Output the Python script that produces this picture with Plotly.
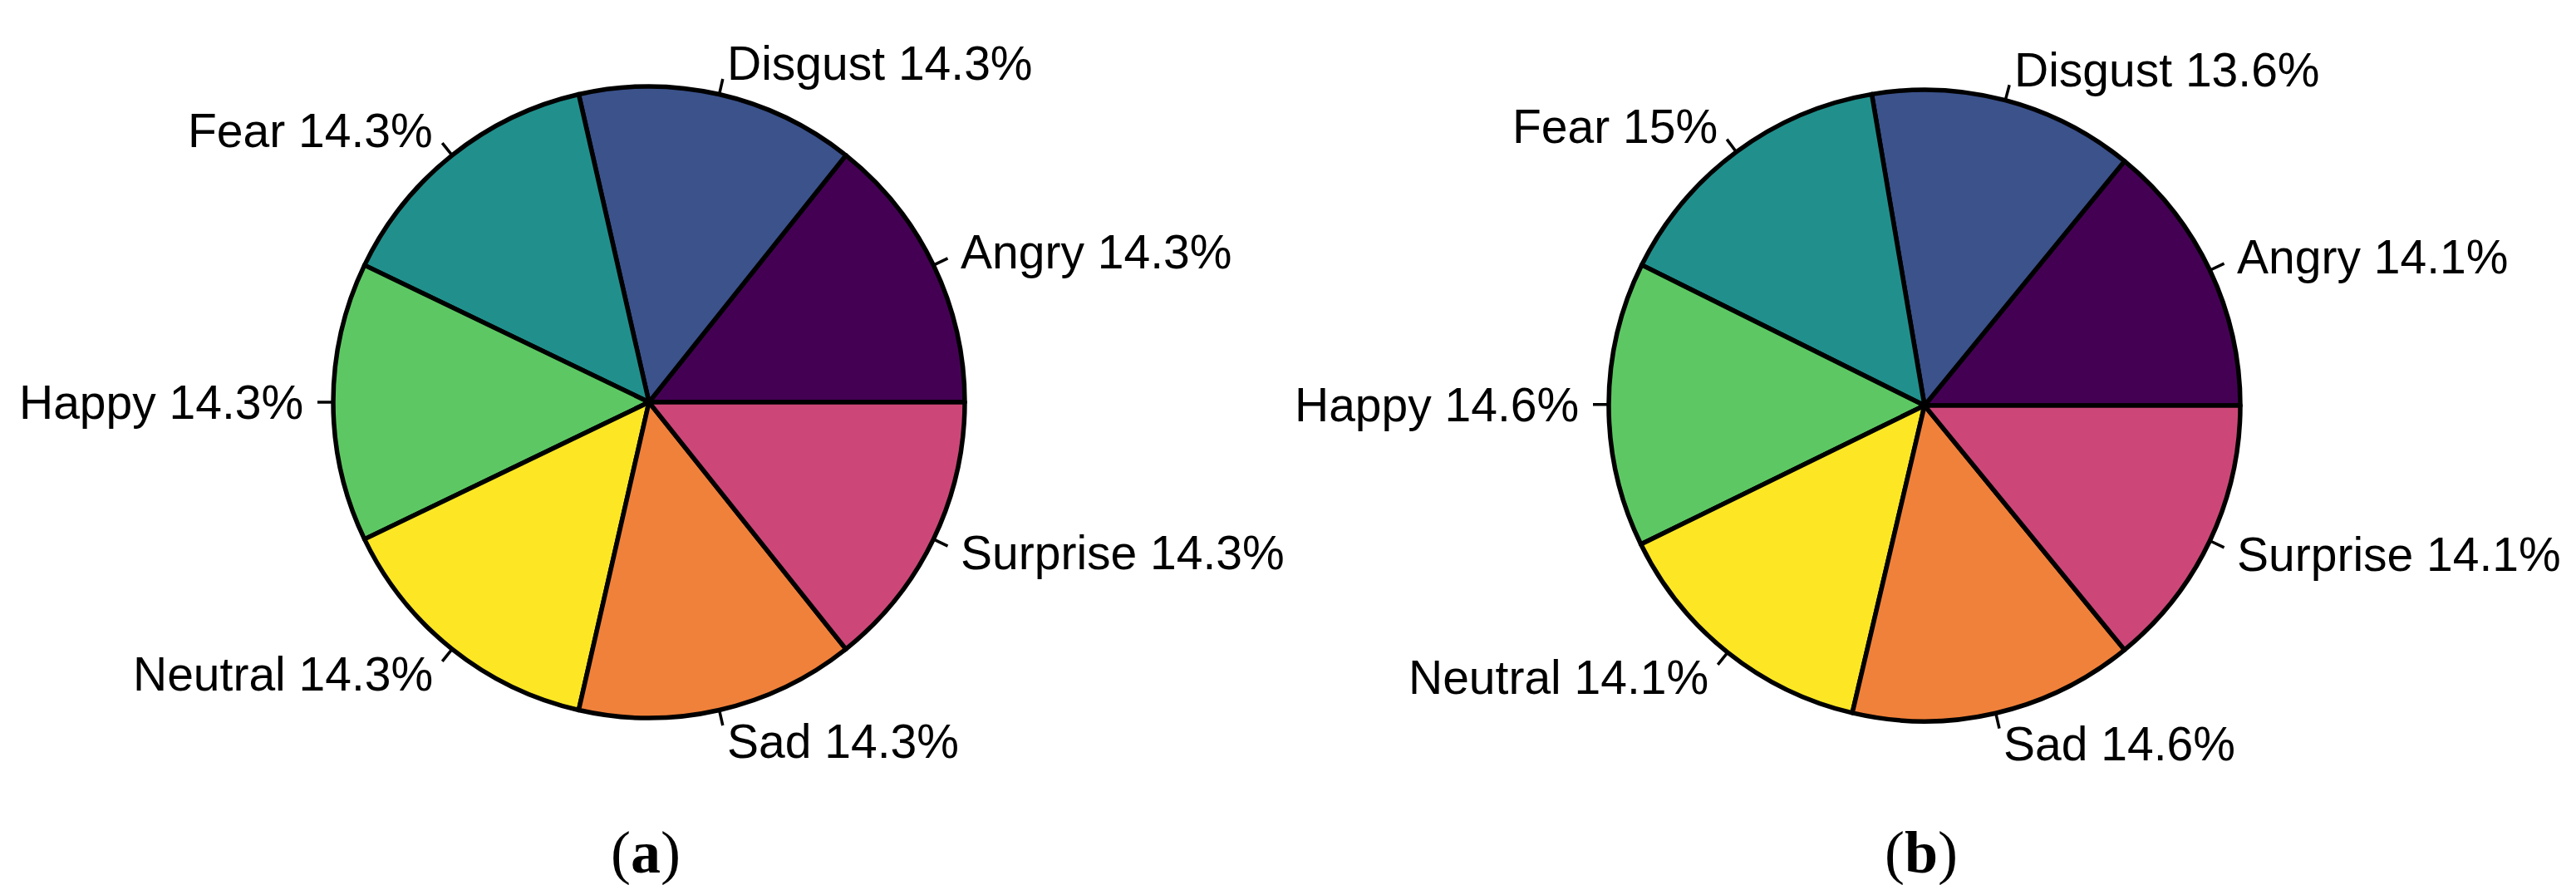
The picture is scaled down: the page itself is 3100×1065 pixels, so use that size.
import math
import plotly.graph_objects as go

# Emotion distribution, two pies side by side

emotions = ["Angry", "Disgust", "Fear", "Happy", "Neutral", "Sad", "Surprise"]
share_a = [14.3, 14.3, 14.3, 14.3, 14.3, 14.3, 14.3]
share_b = [14.1, 13.6, 15.0, 14.6, 14.1, 14.6, 14.1]
captions = ["a", "b"]

colors = ["#440154", "#3B528B", "#21908C", "#5DC863",
          "#FDE725", "#F0813A", "#CC4778"]

W, H = 3100, 1065
R = 380
centers = [(773, 476), (2308, 480)]
label_font = dict(family="Liberation Sans, Arial, sans-serif", size=57, color="black")

fig = go.Figure()
shapes = []
annotations = []

for (cx, cy), vals, cap in zip(centers, [share_a, share_b], captions):
    total = sum(vals)
    # plotly puts the first counterclockwise slice clockwise of `rotation`,
    # so shift it so the first slice starts at 3 o'clock going up
    rot = 90 - 360 * vals[0] / total
    fig.add_trace(go.Pie(
        labels=emotions,
        values=vals,
        sort=False,
        direction="counterclockwise",
        rotation=rot,
        textinfo="none",
        hoverinfo="label+value",
        showlegend=False,
        marker=dict(colors=colors, line=dict(color="black", width=5.5)),
        domain=dict(x=[(cx - R) / W, (cx + R) / W],
                    y=[1 - (cy + R) / H, 1 - (cy - R) / H]),
    ))

    # R-style labels: tick from r to 1.05r, text at 1.1r
    cum = 0
    for name, v in zip(emotions, vals):
        ang = 2 * math.pi * (cum + v / 2) / total
        cum += v
        c, s = math.cos(ang), math.sin(ang)
        shapes.append(dict(
            type="line", xref="paper", yref="paper",
            x0=(cx + R * c) / W, y0=1 - (cy - R * s) / H,
            x1=(cx + 1.05 * R * c) / W, y1=1 - (cy - 1.05 * R * s) / H,
            line=dict(color="black", width=3.5),
        ))
        annotations.append(dict(
            x=(cx + 1.09 * R * c) / W, y=1 - (cy - 1.1 * R * s) / H,
            xref="paper", yref="paper",
            text=f"{name} {v:g}%",
            showarrow=False,
            xanchor="left" if c > 0 else "right",
            yanchor="middle",
            font=label_font,
        ))

    annotations.append(dict(
        x=(cx - 4) / W, y=1 - 1018 / H, xref="paper", yref="paper",
        text=f"(<b>{cap}</b>)", showarrow=False,
        xanchor="center", yanchor="middle",
        font=dict(family="Liberation Serif, Times New Roman, serif", size=72, color="black"),
    ))

fig.update_layout(
    width=W, height=H,
    margin=dict(l=0, r=0, t=0, b=0),
    paper_bgcolor="white",
    plot_bgcolor="white",
    shapes=shapes,
    annotations=annotations,
)

fig.write_html("out.html")
